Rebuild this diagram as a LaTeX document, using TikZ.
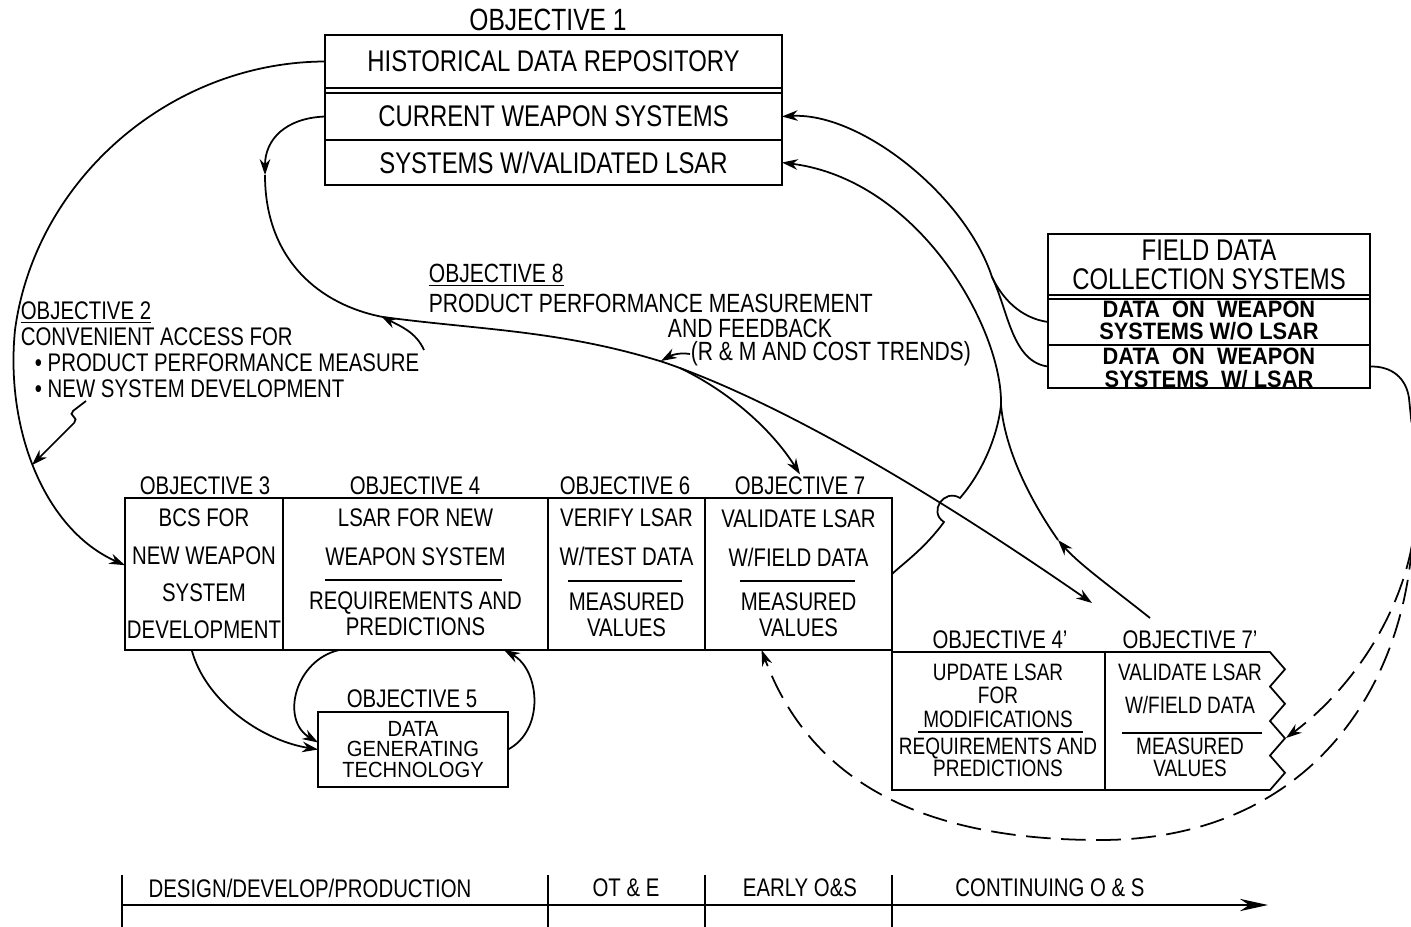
\documentclass[tikz,border=0pt]{standalone}
\usepackage{fontspec}
\setmainfont{Liberation Sans}[FakeStretch=0.8]
\newfontfamily\fdfont{Liberation Sans}[FakeStretch=0.92]
\usetikzlibrary{arrows.meta}

\tikzset{
	>={Stealth[length=9pt,width=6pt]},
	box/.style={draw, inner sep=0pt, outer sep=0pt},
	ttl/.style={inner sep=1pt, font=\fontsize{14.5}{16}\selectfont},
	txt/.style={align=center, inner sep=0pt, font=\fontsize{14.5}{#1}\selectfont},
	txt/.default=16,
	smalltxt/.style={align=center, inner sep=0pt, font=\fontsize{13.5}{#1}\selectfont},
	smalltxt/.default=14,
	fdtxt/.style={align=center, inner sep=0pt, font=\fdfont\bfseries\fontsize{13.5}{13}\selectfont},
	dashline/.style={dash pattern=on 14pt off 6pt}
}

\begin{document}
\begin{tikzpicture}[x=0.02cm, y=-0.02cm, line width=1pt]
	\fill [white] (0,0) rectangle (1411,927);
	\useasboundingbox (0,0) rectangle (1411,927);

	% objective 1
	\node [ttl, font=\fontsize{17.5}{19}\selectfont] (t1) at (548,20) {OBJECTIVE 1};
	\node [box, minimum width=9.14cm, minimum height=1.06cm, font=\fontsize{17}{19}\selectfont] (hdr) at (553.5,61.5) {HISTORICAL DATA REPOSITORY};
	\node [box, minimum width=9.14cm, minimum height=0.94cm, font=\fontsize{17}{19}\selectfont] (cws) at (553.5,116.5) {CURRENT WEAPON SYSTEMS};
	\node [box, minimum width=9.14cm, minimum height=0.9cm, font=\fontsize{17}{19}\selectfont] (swvl) at (553.5,162.5) {SYSTEMS W/VALIDATED LSAR};
	\draw (hdr.north west) rectangle (swvl.south east);

	% field data
	\node [box, minimum width=6.44cm, minimum height=1.22cm, txt, font=\fontsize{17}{16.4}\selectfont] (fdc) at (1209,264.5) {FIELD DATA\\COLLECTION SYSTEMS};
	\node [box, minimum width=6.44cm, minimum height=0.92cm] (fdo) at (1209,322) {};
	\node [fdtxt] (fdoa) at (1209,320.5) {DATA\ \ ON\ \ WEAPON\\SYSTEMS W/O LSAR};
	\node [box, minimum width=6.44cm, minimum height=0.86cm] (fdw) at (1209,366.5) {};
	\node [fdtxt] (fdwa) at (1209,368) {DATA\ \ ON\ \ WEAPON\\SYSTEMS\ \ W/ LSAR};
	\draw (fdc.north west) rectangle (fdw.south east);

	% notes
	\node [txt=14.7, align=left, anchor=north west] (o2) at (20,301) {\underline{OBJECTIVE 2}\\CONVENIENT ACCESS FOR\\\hspace*{8pt}• PRODUCT PERFORMANCE MEASURE\\\hspace*{8pt}• NEW SYSTEM DEVELOPMENT};
	\node [txt, align=left, anchor=north west, font=\fontsize{15}{17}\selectfont] (o8a) at (428,263) {\underline{OBJECTIVE 8}\\PRODUCT PERFORMANCE MEASUREMENT};
	\node [txt, font=\fontsize{15}{17}\selectfont] (o8b) at (750,328) {AND FEEDBACK};
	\node [txt, anchor=west, font=\fontsize{15}{17}\selectfont] (o8c) at (690,354) {(R \& M AND COST TRENDS)};

	% main row
	\node [ttl] (t3) at (205,486) {OBJECTIVE 3};
	\node [ttl] (t4) at (415,486) {OBJECTIVE 4};
	\node [ttl] (t6) at (625,486) {OBJECTIVE 6};
	\node [ttl] (t7) at (800,486) {OBJECTIVE 7};

	\node [box, minimum width=3.16cm, minimum height=3.04cm, txt=21.3] (o3) at (204,574) {BCS FOR\\NEW WEAPON\\SYSTEM\\DEVELOPMENT};

	\node [box, minimum width=5.3cm, minimum height=3.04cm] (o4) at (415.5,574) {};
	\node [txt=22] (o4a) at (415.5,537.5) {LSAR FOR NEW\\WEAPON SYSTEM};
	\node [txt=14.8] (o4b) at (415.5,614) {REQUIREMENTS AND\\PREDICTIONS};
	\draw (325,580) -- (502,580);

	\node [box, minimum width=3.14cm, minimum height=3.04cm] (o6) at (626.5,574) {};
	\node [txt=22] (o6a) at (626.5,537.5) {VERIFY LSAR\\W/TEST DATA};
	\node [txt=14.8] (o6b) at (626.5,614.5) {MEASURED\\VALUES};
	\draw (568,581) -- (682,581);

	\node [box, minimum width=3.74cm, minimum height=3.04cm] (o7) at (798.5,574) {};
	\node [txt=22] (o7a) at (798.5,538.5) {VALIDATE LSAR\\W/FIELD DATA};
	\node [txt=14.8] (o7b) at (798.5,615) {MEASURED\\VALUES};
	\draw (740,581) -- (855,581);

	% updates
	\node [ttl] (t4p) at (1000,640) {OBJECTIVE 4'};
	\node [ttl] (t7p) at (1190,640) {OBJECTIVE 7'};

	\node [box, minimum width=4.26cm, minimum height=2.76cm] (o4p) at (998.5,721) {};
	\node [smalltxt=13.3] (o4pa) at (998,695.5) {UPDATE LSAR\\FOR\\MODIFICATIONS};
	\node [smalltxt=12.5] (o4pb) at (998,757) {REQUIREMENTS AND\\PREDICTIONS};
	\draw (918,732) -- (1083,732);

	\node [inner sep=0pt, outer sep=0pt, minimum width=3.3cm, minimum height=2.76cm] (o7p) at (1187.5,721) {};
	\draw (o7p.north west) -- (o7p.north east)
		\foreach \i in {1,...,4} { -- ++(15,17.25) -- ++(-15,17.25) } -- (o7p.south west);
	\node [smalltxt=18.7] (o7pa) at (1190,688.5) {VALIDATE LSAR\\W/FIELD DATA};
	\node [smalltxt=12.5] (o7pb) at (1190,757) {MEASURED\\VALUES};
	\draw (1122,733) -- (1262,733);

	% objective 5
	\node [ttl] (t5) at (412,699) {OBJECTIVE 5};
	\node [box, minimum width=3.8cm, minimum height=1.5cm, align=center, font=\fdfont\fontsize{12.5}{11.9}\selectfont] (o5) at (413,749.5) {DATA\\GENERATING\\TECHNOLOGY};

	% time line
	\foreach \x in {122,548,705,892}
	{
		\draw (\x,875) -- (\x,927);
	}
	\draw [-{Stealth[length=16pt,width=7pt]}] (122,905) -- (1268,905);
	\node [ttl] (ph1) at (310,888) {DESIGN/DEVELOP/PRODUCTION};
	\node [ttl] (ph2) at (626,888) {OT \& E};
	\node [ttl] (ph3) at (800,888) {EARLY O\&S};
	\node [ttl] (ph4) at (1050,888) {CONTINUING O \& S};

	% connectors
	\coordinate (onA) at (32,465);
	\coordinate (sq) at (86,401);
	\coordinate (ms) at (424,350);
	\coordinate (c1) at (265,175);
	\coordinate (onC) at (381,316);
	\coordinate (c2) at (661,361);
	\coordinate (c3) at (680,368);
	\coordinate (c4) at (1092,603);
	\coordinate (j1) at (992,277);
	\coordinate (j2) at (1001,405);
	\coordinate (h1) at (1150,618);
	\coordinate (h2) at (1058,540);
	\coordinate (r1) at (1409,398);
	\coordinate (j3) at (1412,545);
	\coordinate (z1) at (1286,738);

	\draw [->] (hdr.west) .. controls (170,62) and (35,180) .. (15,330) .. controls (5,430) and (45,530) .. ([yshift=5pt]o3.west);
	\draw [->, rounded corners=3pt] (sq) -- (69,414) -- (78,419) -- (onA);

	\draw [->] (cws.west) .. controls (285,118) and (265,140) .. (c1);
	\draw [->] (c1) .. controls (265,260) and (320,305) .. (383,317) .. controls (480,330) and (560,330) .. (663,362) .. controls (760,395) and (900,470) .. (c4);
	\draw [->] (ms) .. controls (416,332) and (400,326) .. (onC);
	\draw [->] (o8c.west) .. controls (678,352) and (670,356) .. (c2);
	\draw [->] (c3) .. controls (730,392) and (772,430) .. (t7.north);

	\draw (fdw.west) .. controls (1012,362) and (1008,310) .. (j1);
	\draw [->] (fdo.west) .. controls (1020,318) and (1002,298) .. (j1) .. controls (965,195) and (860,112) .. (cws.east);
	\draw [->] (j2) .. controls (1003,330) and (920,180) .. (swvl.east);
	\draw (j2) .. controls (997,440) and (980,475) .. (960,498) .. controls (944,488) and (928,512) .. (944,522) .. controls (925,548) and (905,562) .. (o7.east);
	\draw [->] (h1) .. controls (1115,590) and (1080,565) .. (h2);
	\draw (h2) .. controls (1030,500) and (1005,450) .. (j2);

	\draw (fdw.east) .. controls (1392,366) and (1406,378) .. (r1);
	\draw [dashline] (r1) .. controls (1414,450) and (1422,500) .. (j3);
	\draw [dashline, ->] (j3) .. controls (1398,620) and (1350,690) .. (z1);
	\draw [dashline, ->] (j3) .. controls (1400,700) and (1300,840) .. (1100,840) .. controls (920,840) and (810,780) .. ([xshift=-21pt]o7.south);

	\draw [->] ([xshift=-7pt]o3.south) .. controls (205,700) and (260,740) .. (o5.west);
	\draw [->] ([xshift=32pt]o4.south west) .. controls (295,660) and (280,720) .. ([yshift=4pt]o5.west);
	\draw [->] (o5.east) .. controls (545,730) and (540,670) .. ([xshift=-25pt]o4.south east);
\end{tikzpicture}
\end{document}
